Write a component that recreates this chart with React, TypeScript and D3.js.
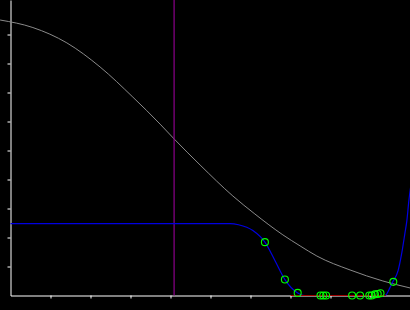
import React, { useEffect, useRef } from "react";
import * as d3 from "d3";

const W = 410;
const H = 310;

// axis ticks (values)
const xTicks = [1, 2, 3, 4, 5, 6, 7, 8, 9];
const yTicks = [1, 2, 3, 4, 5, 6, 7, 8, 9];
const xDomain = [0, 10];
const yDomain = [0, 10.19];

// gray decreasing curve
const grayX = [-0.26, 0.56, 1.41, 2.24, 3.06, 3.74, 4.09, 4.74, 5.56, 6.11, 6.81, 7.24, 7.66, 8.49, 9.31, 9.99];
const grayY = [9.5, 9.24, 8.71, 7.88, 6.84, 5.91, 5.4, 4.5, 3.43, 2.81, 2.09, 1.71, 1.36, 0.88, 0.5, 0.26];

// blue curve
const blueX = [0, 5.49, 5.7, 6.06, 6.36, 6.61, 6.86, 7.18, 7.36, 9.36, 9.49, 9.56, 9.69, 9.78, 9.86, 9.91, 9.96, 10.02];
const blueY = [2.48, 2.48, 2.44, 2.24, 1.84, 1.21, 0.55, 0.09, 0, 0, 0.28, 0.48, 0.86, 1.45, 2.14, 2.59, 3.28, 3.9];

// vertical marker
const markerX = 4.09;

// red segment on the baseline
const redX = [7.0, 9.38];
const redY = [0, 0];

// sampled points
const ptsX = [6.36, 6.86, 7.18, 7.75, 7.82, 7.89, 8.54, 8.74, 8.97, 9.03, 9.11, 9.18, 9.25, 9.57];
const ptsY = [1.84, 0.55, 0.09, 0, 0, 0, 0, 0, 0, 0, 0.04, 0.05, 0.08, 0.47];

export default function App() {
  const ref = useRef<SVGSVGElement | null>(null);

  useEffect(() => {
    document.body.style.margin = "0";
    const svg = d3.select(ref.current);
    svg.selectAll("*").remove();

    const x = d3.scaleLinear().domain(xDomain).range([10.5, 410.5]);
    const y = d3.scaleLinear().domain(yDomain).range([295.5, 0]);

    svg.append("rect").attr("width", W).attr("height", H).attr("fill", "#000");

    const gx = svg
      .append("g")
      .attr("transform", `translate(0,${y(0)})`)
      .call(d3.axisBottom(x).tickValues(xTicks).tickSize(3).tickSizeOuter(0).tickFormat(() => ""));
    const gy = svg
      .append("g")
      .attr("transform", `translate(${x(0)},0)`)
      .call(d3.axisLeft(y).tickValues(yTicks).tickSize(3).tickSizeOuter(0).tickFormat(() => ""));
    [gx, gy].forEach((g) => {
      g.selectAll("path, line").attr("stroke", "#fff").attr("stroke-width", 1);
    });

    const line = d3
      .line<[number, number]>()
      .x((d) => x(d[0]))
      .y((d) => y(d[1]))
      .curve(d3.curveMonotoneX);

    const gray = grayX.map((v, i) => [v, grayY[i]] as [number, number]);
    svg.append("path").attr("d", line(gray)).attr("fill", "none").attr("stroke", "#8a8a8a").attr("stroke-width", 1);

    svg
      .append("line")
      .attr("x1", x(markerX))
      .attr("x2", x(markerX))
      .attr("y1", y(yDomain[1]))
      .attr("y2", y(0))
      .attr("stroke", "#8b008b")
      .attr("stroke-width", 1.2);

    const blue = blueX.map((v, i) => [v, blueY[i]] as [number, number]);
    svg.append("path").attr("d", line(blue)).attr("fill", "none").attr("stroke", "#0000e0").attr("stroke-width", 1.2);

    const red = redX.map((v, i) => [v, redY[i]] as [number, number]);
    svg
      .append("path")
      .attr("d", d3.line<[number, number]>().x((d) => x(d[0])).y((d) => y(d[1]))(red))
      .attr("fill", "none")
      .attr("stroke", "#a00000")
      .attr("stroke-width", 1.2);

    svg
      .append("g")
      .selectAll("circle")
      .data(ptsX.map((v, i) => [v, ptsY[i]]))
      .join("circle")
      .attr("cx", (d) => x(d[0]))
      .attr("cy", (d) => y(d[1]))
      .attr("r", 3.5)
      .attr("fill", "none")
      .attr("stroke", "#00ff00")
      .attr("stroke-width", 1.1);
  }, []);

  return (
    <div style={{ position: "absolute", left: 0, top: 0 }}>
      <svg ref={ref} width={W} height={H} style={{ display: "block" }} />
    </div>
  );
}
